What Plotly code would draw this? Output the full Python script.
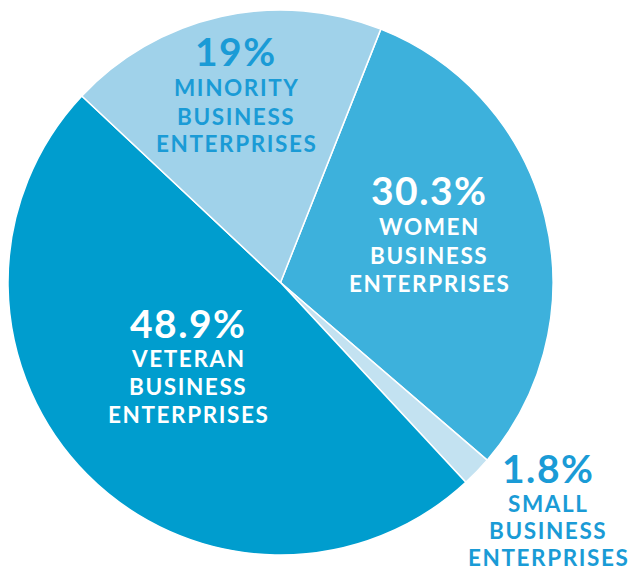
import plotly.graph_objects as go

W, H = 628, 574

# Data
categories = ["Women Business Enterprises", "Small Business Enterprises",
              "Veteran Business Enterprises", "Minority Business Enterprises"]
values = [30.3, 1.8, 48.9, 19.0]
pct_labels = ["30.3%", "1.8%", "48.9%", "19%"]
label_lines = [["WOMEN", "BUSINESS", "ENTERPRISES"],
               ["SMALL", "BUSINESS", "ENTERPRISES"],
               ["VETERAN", "BUSINESS", "ENTERPRISES"],
               ["MINORITY", "BUSINESS", "ENTERPRISES"]]

slice_colors = ["#3db1dc", "#c3e2f1", "#009dce", "#a0d2ea"]
text_colors = ["#ffffff", "#1a9bd6", "#ffffff", "#1a9bd6"]
# label anchor positions in pixels: (x, y of percent, y of first line, line gap)
anchors = [(429, 190, 227, 28), (548, 468, 503, 27), (188, 323, 358, 28), (236, 51, 88, 28)]

FONT = "Lato"

fig = go.Figure(go.Pie(
    labels=categories, values=values, sort=False, direction="clockwise",
    rotation=21.6, textinfo="none", hoverinfo="label+percent",
    marker=dict(colors=slice_colors, line=dict(color="#ffffff", width=1.5)),
    domain=dict(x=[8 / W, 553 / W], y=[1 - 555 / H, 1 - 10 / H]),
    showlegend=False,
))

annotations = []
for pct, lines, col, (ax, ayp, ay0, gap) in zip(pct_labels, label_lines, text_colors, anchors):
    annotations.append(dict(
        text=f"<span style='letter-spacing:1.5px'>{pct}</span>", x=ax / W, y=1 - ayp / H,
        xref="paper", yref="paper", showarrow=False, xanchor="center", yanchor="middle",
        font=dict(family=FONT, size=39, color=col, weight=700)))
    for i, ln in enumerate(lines):
        annotations.append(dict(
            text=f"<span style='letter-spacing:1.6px'>{ln}</span>", x=ax / W,
            y=1 - (ay0 + i * gap) / H,
            xref="paper", yref="paper", showarrow=False, xanchor="center", yanchor="middle",
            font=dict(family=FONT, size=22.5, color=col, weight=700)))

fig.update_layout(
    width=W, height=H, margin=dict(l=0, r=0, t=0, b=0),
    paper_bgcolor="#ffffff", plot_bgcolor="#ffffff",
    annotations=annotations,
)

fig.write_html("out.html", config={"displayModeBar": False},
               post_script="document.body.style.margin='0px';")
